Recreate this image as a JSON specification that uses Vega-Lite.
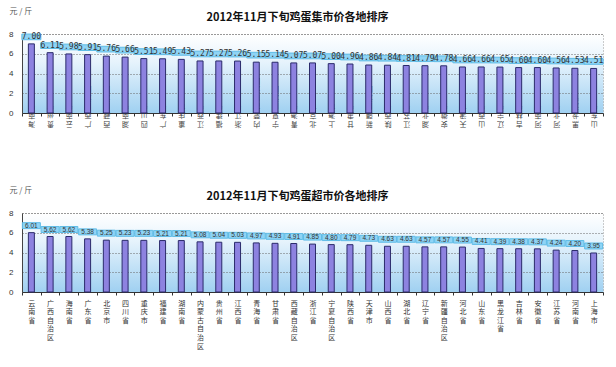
{
  "$schema": "https://vega.github.io/schema/vega-lite/v6.json",
  "background": "white",
  "padding": {"left": 8, "top": 6, "right": 6, "bottom": 0},
  "bounds": "flush",
  "spacing": 100,
  "datasets": {
    "jishi": [
      {"region": "海南省", "price": 7.00},
      {"region": "贵州省", "price": 6.11},
      {"region": "云南省", "price": 5.98},
      {"region": "广西自治区", "price": 5.91},
      {"region": "西藏自治区", "price": 5.76},
      {"region": "湖南省", "price": 5.66},
      {"region": "四川省", "price": 5.51},
      {"region": "广东省", "price": 5.49},
      {"region": "重庆市", "price": 5.43},
      {"region": "江西省", "price": 5.27},
      {"region": "福建省", "price": 5.27},
      {"region": "浙江省", "price": 5.26},
      {"region": "内蒙古自治区", "price": 5.15},
      {"region": "宁夏自治区", "price": 5.14},
      {"region": "青海省", "price": 5.07},
      {"region": "北京市", "price": 5.07},
      {"region": "上海市", "price": 5.00},
      {"region": "甘肃省", "price": 4.96},
      {"region": "新疆自治区", "price": 4.86},
      {"region": "陕西省", "price": 4.84},
      {"region": "江苏省", "price": 4.81},
      {"region": "湖北省", "price": 4.79},
      {"region": "安徽省", "price": 4.78},
      {"region": "天津市", "price": 4.66},
      {"region": "山西省", "price": 4.66},
      {"region": "辽宁省", "price": 4.65},
      {"region": "吉林省", "price": 4.60},
      {"region": "河南省", "price": 4.60},
      {"region": "河北省", "price": 4.56},
      {"region": "黑龙江省", "price": 4.53},
      {"region": "山东省", "price": 4.51}
    ],
    "chaoshi": [
      {"region": "云南省", "price": 6.01},
      {"region": "广西自治区", "price": 5.62},
      {"region": "海南省", "price": 5.62},
      {"region": "广东省", "price": 5.38},
      {"region": "北京市", "price": 5.25},
      {"region": "四川省", "price": 5.23},
      {"region": "重庆市", "price": 5.23},
      {"region": "福建省", "price": 5.21},
      {"region": "湖南省", "price": 5.21},
      {"region": "内蒙古自治区", "price": 5.08},
      {"region": "贵州省", "price": 5.04},
      {"region": "江西省", "price": 5.03},
      {"region": "青海省", "price": 4.97},
      {"region": "甘肃省", "price": 4.93},
      {"region": "西藏自治区", "price": 4.91},
      {"region": "浙江省", "price": 4.85},
      {"region": "宁夏自治区", "price": 4.80},
      {"region": "陕西省", "price": 4.79},
      {"region": "天津市", "price": 4.73},
      {"region": "山西省", "price": 4.63},
      {"region": "湖北省", "price": 4.63},
      {"region": "辽宁省", "price": 4.57},
      {"region": "新疆自治区", "price": 4.57},
      {"region": "河北省", "price": 4.55},
      {"region": "山东省", "price": 4.41},
      {"region": "黑龙江省", "price": 4.39},
      {"region": "吉林省", "price": 4.38},
      {"region": "安徽省", "price": 4.37},
      {"region": "江苏省", "price": 4.24},
      {"region": "河南省", "price": 4.20},
      {"region": "上海市", "price": 3.95}
    ]
  },
  "config": {
    "font": "Liberation Sans",
    "view": {
      "stroke": "#999999",
      "strokeDash": [1, 2],
      "strokeWidth": 1,
      "fill": {"gradient": "linear", "x1": 0, "y1": 0, "x2": 0, "y2": 1, "stops": [{"offset": 0, "color": "#ffffff"}, {"offset": 0.35, "color": "#e6f3fc"}, {"offset": 1, "color": "#9fd0f1"}]}
    },
    "title": {"font": "Noto Sans CJK SC", "fontSize": 11, "fontWeight": "bold", "color": "#111111", "offset": -16, "dx": -15, "anchor": "middle"}
  },
  "vconcat": [
    {
      "width": 581, "height": 79,
      "data": {"name": "jishi"},
      "title": {"text": "2012年11月下旬鸡蛋集市价各地排序"},
      "encoding": {
        "x": {"field": "region", "type": "nominal", "sort": null, "scale": {"paddingInner": 0, "paddingOuter": 0},
          "axis": {"title": null, "labelAngle": 180, "labelBaseline": "bottom", "labelAlign": "center", "labelExpr": "split(datum.label, '')", "labelFont": "Noto Sans CJK SC", "labelFontSize": 7, "labelLineHeight": 8.6, "labelColor": "#444444", "labelOverlap": false, "labelPadding": 4, "tickBand": "extent", "tickSize": 3, "tickColor": "#333333", "domainColor": "#333333"}},
        "y": {"field": "price", "type": "quantitative", "scale": {"domain": [0, 8], "nice": false},
          "axis": {"title": "元 / 斤", "titleAngle": 0, "titleX": -13, "titleY": -23, "titleAlign": "left", "titleBaseline": "middle", "titleFont": "Noto Sans CJK SC", "titleFontSize": 8, "titleFontWeight": "normal", "titleColor": "#555555", "values": [0, 2, 4, 6, 8], "tickCount": 5, "labelOverlap": false, "grid": true, "gridDash": [1, 2], "gridColor": "#666666", "gridOpacity": 1, "domain": true, "domainColor": "#444444", "ticks": false, "labelPadding": 9, "labelFontSize": 8, "labelColor": "#333333"}}
      },
      "layer": [
        {"mark": {"type": "bar", "size": 6, "fill": "#8d82e0", "stroke": "#2b2b6b", "strokeWidth": 1}},
        {"mark": {"type": "point", "shape": "M-1,-0.3H1V0.3H-1Z", "size": 361, "filled": true, "fill": "#8fd4f5", "stroke": "#5fbce6", "strokeWidth": 1, "opacity": 1, "yOffset": -7}},
        {
          "mark": {"type": "text", "yOffset": -7, "fontSize": 8, "font": "DejaVu Sans Mono", "color": "#333333", "baseline": "middle"},
          "encoding": {"text": {"field": "price", "type": "quantitative", "format": ".2f"}}
        }
      ]
    },
    {
      "width": 581, "height": 79,
      "data": {"name": "chaoshi"},
      "title": {"text": "2012年11月下旬鸡蛋超市价各地排序"},
      "encoding": {
        "x": {"field": "region", "type": "nominal", "sort": null, "scale": {"paddingInner": 0, "paddingOuter": 0},
          "axis": {"title": null, "labelAngle": 0, "labelBaseline": "top", "labelAlign": "center", "labelExpr": "split(datum.label, '')", "labelFont": "Noto Sans CJK SC", "labelFontSize": 7, "labelLineHeight": 8.6, "labelColor": "#333333", "labelOverlap": false, "labelPadding": 4, "tickBand": "extent", "tickSize": 3, "tickColor": "#333333", "domainColor": "#333333"}},
        "y": {"field": "price", "type": "quantitative", "scale": {"domain": [0, 8], "nice": false},
          "axis": {"title": "元 / 斤", "titleAngle": 0, "titleX": -13, "titleY": -23, "titleAlign": "left", "titleBaseline": "middle", "titleFont": "Noto Sans CJK SC", "titleFontSize": 8, "titleFontWeight": "normal", "titleColor": "#555555", "values": [0, 2, 4, 6, 8], "tickCount": 5, "labelOverlap": false, "grid": true, "gridDash": [1, 2], "gridColor": "#666666", "gridOpacity": 1, "domain": true, "domainColor": "#444444", "ticks": false, "labelPadding": 9, "labelFontSize": 8, "labelColor": "#333333"}}
      },
      "layer": [
        {"mark": {"type": "bar", "size": 6, "fill": "#8d82e0", "stroke": "#2b2b6b", "strokeWidth": 1}},
        {"mark": {"type": "point", "shape": "M-1,-0.33H1V0.33H-1Z", "size": 324, "filled": true, "fill": "#8fd4f5", "stroke": "#5fbce6", "strokeWidth": 1, "opacity": 1, "yOffset": -7}},
        {
          "mark": {"type": "text", "yOffset": -7, "fontSize": 6.5, "font": "Liberation Sans", "color": "#333333", "baseline": "middle"},
          "encoding": {"text": {"field": "price", "type": "quantitative", "format": ".2f"}}
        }
      ]
    }
  ]
}
